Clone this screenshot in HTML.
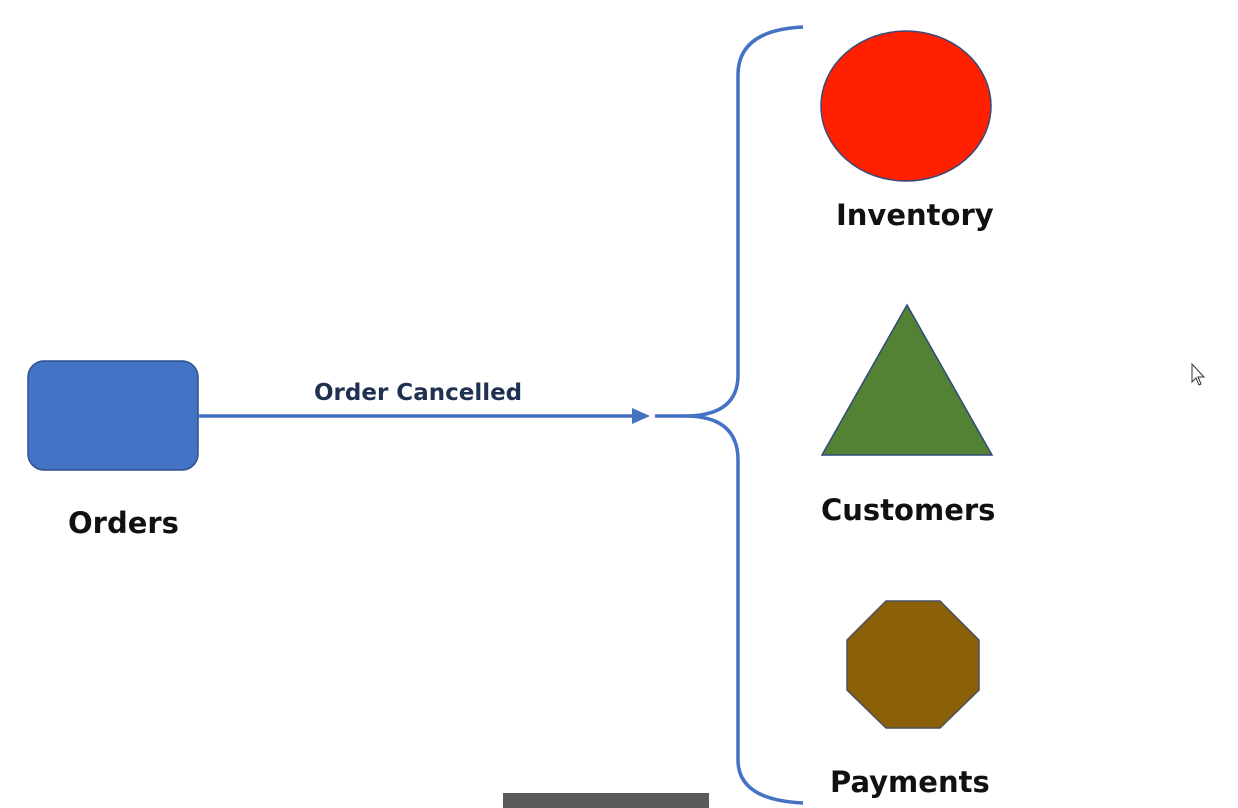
<!DOCTYPE html>
<html><head><style>
body{margin:0;width:1238px;height:808px;background:#fff;overflow:hidden;position:relative;font-family:"DejaVu Sans","Liberation Sans",sans-serif}
.t{position:absolute;color:#111;font-weight:bold;font-size:29px;white-space:nowrap}
</style></head><body>
<svg width="1238" height="808" style="position:absolute;left:0;top:0">
<rect x="28" y="361" width="170" height="109" rx="16" fill="#4472c4" stroke="#2f528f" stroke-width="1.5"/>
<line x1="198" y1="416" x2="636" y2="416" stroke="#4472c4" stroke-width="3.5"/>
<polygon points="632,408 650,416 632,424" fill="#4472c4"/>
<path d="M803,27 Q738,30 738,75 L738,375 Q738,416 685,416 L655,416 M685,416 Q738,416 738,460 L738,760 Q738,800 803,803" fill="none" stroke="#4472c4" stroke-width="3.5"/>
<ellipse cx="906" cy="106" rx="85" ry="75" fill="#ff2000" stroke="#3a4a7a" stroke-width="1.5"/>
<polygon points="907,305 992,455 822,455" fill="#548235" stroke="#2f4a7a" stroke-width="1.5"/>
<polygon points="886,601 940,601 979,640 979,690 940,728 886,728 847,690 847,640" fill="#8a6008" stroke="#4a5060" stroke-width="1.5"/>
<rect x="503" y="793" width="206" height="15" fill="#5a5a5a"/>
<path d="M1192,364 L1192,382 L1196,378 L1199,385 L1201,384 L1198,377 L1204,377 Z" fill="#fff" stroke="#333" stroke-width="1"/>
</svg>
<div class="t" style="left:68px;top:506px">Orders</div>
<div class="t" style="left:314px;top:380px;font-size:23px;color:#1f3050">Order Cancelled</div>
<div class="t" style="left:836px;top:198px">Inventory</div>
<div class="t" style="left:821px;top:493px">Customers</div>
<div class="t" style="left:830px;top:765px">Payments</div>
</body></html>
